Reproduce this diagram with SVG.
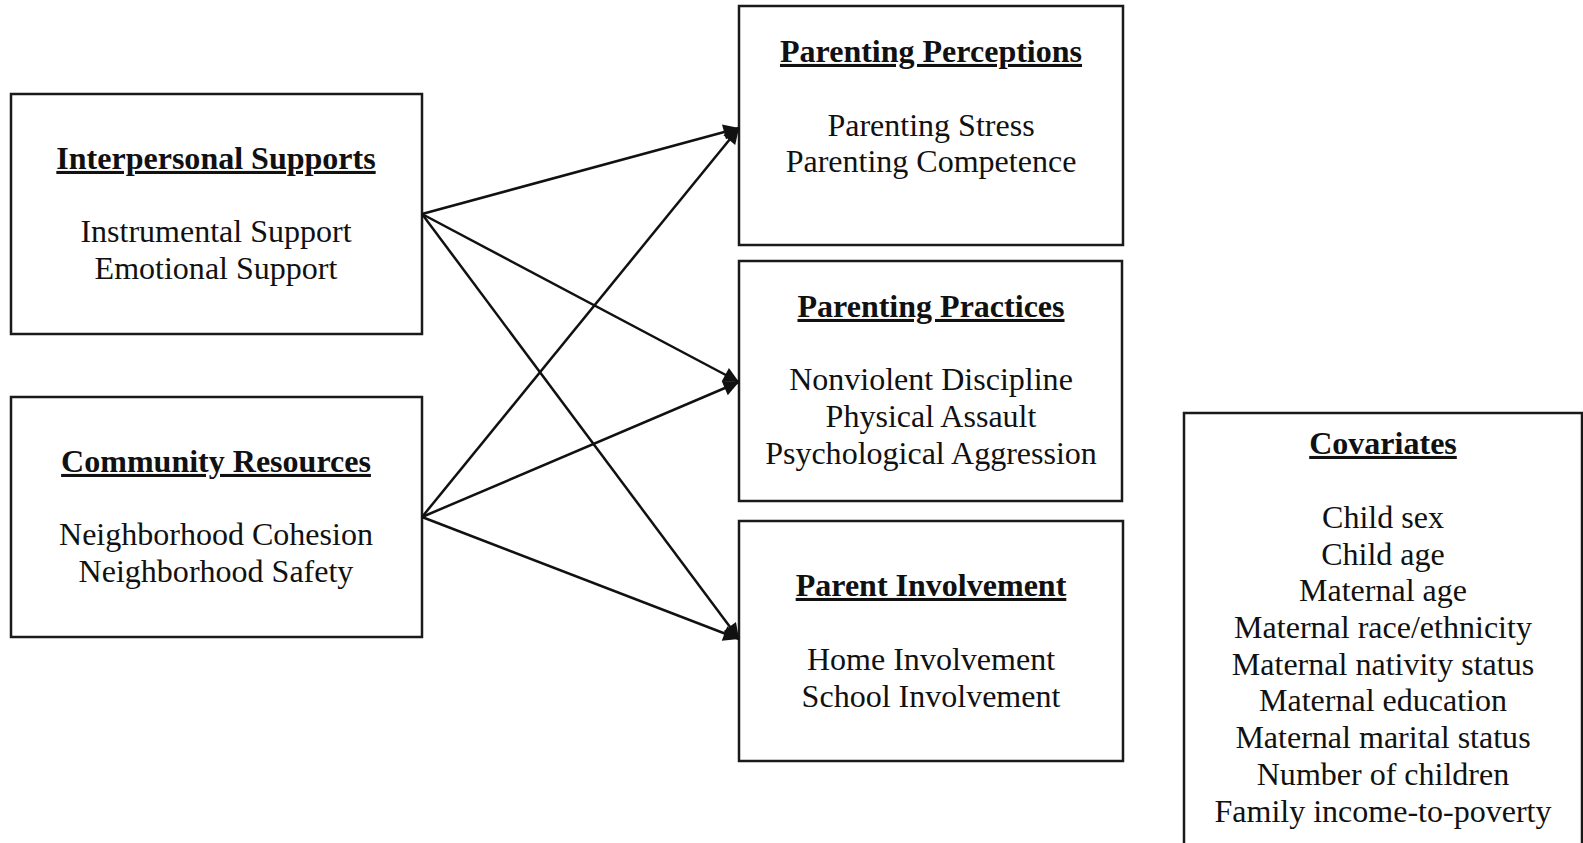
<svg xmlns="http://www.w3.org/2000/svg" width="1583" height="843" viewBox="0 0 1583 843">
  <style>
    .box { fill: #ffffff; stroke: #1a1a1a; stroke-width: 2.5; }
    .title { font-family: "Liberation Serif", "Times New Roman", serif; font-size: 30.5px; font-weight: bold; text-anchor: middle; fill: #111; text-decoration: underline; }
    .item { font-family: "Liberation Serif", "Times New Roman", serif; font-size: 30.5px; text-anchor: middle; fill: #111; }
    .edge { stroke: #111; stroke-width: 2.5; fill: none; marker-end: url(#arrow); }
  </style>
  <defs>
    <marker id="arrow" viewBox="0 0 10 10" refX="10" refY="5" markerWidth="7.6" markerHeight="6.2" orient="auto" markerUnits="strokeWidth">
      <path d="M0,0 L10,5 L0,10 z" fill="#111"/>
    </marker>
  </defs>
  <rect width="1583" height="843" fill="#ffffff"/>

  <!-- predictors -->
  <g id="interpersonal-supports">
    <rect class="box" x="11" y="94" width="411" height="240"/>
    <g transform="translate(216 0) scale(1.05 1)">
      <text class="title" x="0" y="169">Interpersonal Supports</text>
      <text class="item" x="0" y="242">Instrumental Support</text>
      <text class="item" x="0" y="279">Emotional Support</text>
    </g>
  </g>

  <g id="community-resources">
    <rect class="box" x="11" y="397" width="411" height="240"/>
    <g transform="translate(216 0) scale(1.05 1)">
      <text class="title" x="0" y="472">Community Resources</text>
      <text class="item" x="0" y="545">Neighborhood Cohesion</text>
      <text class="item" x="0" y="582">Neighborhood Safety</text>
    </g>
  </g>

  <!-- outcomes -->
  <g id="parenting-perceptions">
    <rect class="box" x="739" y="6" width="384" height="239"/>
    <g transform="translate(931 0) scale(1.05 1)">
      <text class="title" x="0" y="62">Parenting Perceptions</text>
      <text class="item" x="0" y="136">Parenting Stress</text>
      <text class="item" x="0" y="172">Parenting Competence</text>
    </g>
  </g>

  <g id="parenting-practices">
    <rect class="box" x="739" y="261" width="383" height="240"/>
    <g transform="translate(931 0) scale(1.05 1)">
      <text class="title" x="0" y="317">Parenting Practices</text>
      <text class="item" x="0" y="390">Nonviolent Discipline</text>
      <text class="item" x="0" y="427">Physical Assault</text>
      <text class="item" x="0" y="464">Psychological Aggression</text>
    </g>
  </g>

  <g id="parent-involvement">
    <rect class="box" x="739" y="521" width="384" height="240"/>
    <g transform="translate(931 0) scale(1.05 1)">
      <text class="title" x="0" y="596">Parent Involvement</text>
      <text class="item" x="0" y="670">Home Involvement</text>
      <text class="item" x="0" y="707">School Involvement</text>
    </g>
  </g>

  <!-- control variables -->
  <g id="covariates">
    <rect class="box" x="1184" y="413" width="398" height="440"/>
    <g transform="translate(1383 0) scale(1.05 1)">
      <text class="title" x="0" y="454">Covariates</text>
      <text class="item" x="0" y="528">Child sex</text>
      <text class="item" x="0" y="565">Child age</text>
      <text class="item" x="0" y="601">Maternal age</text>
      <text class="item" x="0" y="638">Maternal race/ethnicity</text>
      <text class="item" x="0" y="675">Maternal nativity status</text>
      <text class="item" x="0" y="711">Maternal education</text>
      <text class="item" x="0" y="748">Maternal marital status</text>
      <text class="item" x="0" y="785">Number of children</text>
      <text class="item" x="0" y="822">Family income-to-poverty</text>
    </g>
  </g>

  <!-- paths from each predictor to each outcome -->
  <g id="connectors">
    <line class="edge" x1="422" y1="214" x2="739" y2="128"/>
    <line class="edge" x1="422" y1="214" x2="739" y2="382"/>
    <line class="edge" x1="422" y1="214" x2="739" y2="639"/>
    <line class="edge" x1="422" y1="517" x2="739" y2="128"/>
    <line class="edge" x1="422" y1="517" x2="739" y2="382"/>
    <line class="edge" x1="422" y1="517" x2="739" y2="639"/>
  </g>
</svg>
